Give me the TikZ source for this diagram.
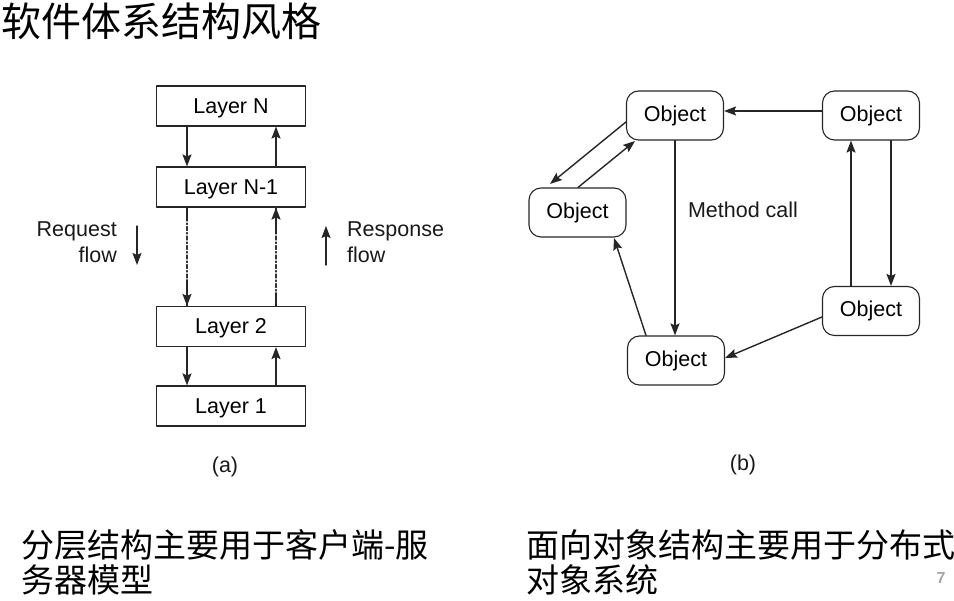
\documentclass[tikz,border=0pt]{standalone}
\usepackage{fontspec}
\setmainfont{Liberation Sans}
\newfontfamily\cjk{Noto Sans CJK SC}
\usetikzlibrary{arrows.meta,calc}

\begin{document}
\begin{tikzpicture}[x=1pt,y=-1pt,line cap=round,line join=round,
    >={Stealth[length=12pt,width=9pt,inset=2pt]},
    layer/.style={draw=black!85,line width=1.1pt,minimum width=149pt,minimum height=40pt,inner sep=0pt,text height=15pt,text depth=0pt,font=\fontsize{21.5}{24}\selectfont},
    obj/.style={draw=black!85,line width=1.1pt,rounded corners=12pt,minimum width=97pt,minimum height=49pt,inner sep=0pt,font=\fontsize{21.5}{24}\selectfont},
    lbl/.style={inner sep=0pt,text=black!90,font=\fontsize{21.5}{26}\selectfont},
    cjktext/.style={inner sep=0pt,anchor=west,align=left,font=\cjk\fontsize{33}{35}\selectfont},
    flow/.style={draw=black!85,line width=1.4pt,->},
    dotline/.style={draw=black!80,line width=1.2pt,dash pattern=on 4pt off 2pt on 1.5pt off 2pt}]
    \useasboundingbox (0,0) rectangle (954,601);
    \node[inner sep=0pt,anchor=west,font=\cjk\fontsize{40}{42}\selectfont] (title) at (1,21) {软件体系结构风格};
    % (a) layers
    \node[layer] (ln) at (231,106) {Layer N};
    \node[layer] (ln1) at (231,187) {Layer N-1};
    \node[layer] (l2) at (231,326.5) {Layer 2};
    \node[layer] (l1) at (231,406) {Layer 1};
    \coordinate (dn) at (187,0);
    \coordinate (up) at (276,0);
    \draw[flow] (ln.south -| dn) -- (ln1.north -| dn);
    \draw[flow] (ln1.north -| up) -- (ln.south -| up);
    \draw[flow] (l2.south -| dn) -- (l1.north -| dn);
    \draw[flow] (l1.north -| up) -- (l2.south -| up);
    \draw[dotline] (ln1.south -| dn) -- (l2.north -| dn);
    \draw[dotline] (ln1.south -| up) -- (l2.north -| up);
    \draw[draw=black!85,line width=1.4pt] (ln1.south -| dn) -- ++(0,13);
    \draw[flow] ($(l2.north -| dn)+(0,-26)$) -- (l2.north -| dn);
    \draw[draw=black!85,line width=1.4pt] (l2.north -| up) -- ++(0,-13);
    \draw[flow] ($(ln1.south -| up)+(0,26)$) -- (ln1.south -| up);
    \node[lbl,align=right,anchor=east] (req) at (117,242) {Request\\flow};
    \node[lbl,align=left,anchor=west] (resp) at (347,242) {Response\\flow};
    \coordinate (reqa) at (137,226);
    \coordinate (reqb) at (137,265);
    \coordinate (respa) at (326,265);
    \coordinate (respb) at (326,226);
    \draw[flow] (reqa) -- (reqb);
    \draw[flow] (respa) -- (respb);
    \node[lbl] (capa) at (225,467) {(a)};
    % (b) objects
    \node[obj] (otop) at (675,115.5) {Object};
    \node[obj] (oright) at (871,115.5) {Object};
    \node[obj] (oleft) at (577.5,212.5) {Object};
    \node[obj] (obot) at (676,360.5) {Object};
    \node[obj] (orb) at (871,311) {Object};
    \draw[flow] (oright.west |- 0,111) -- (otop.east |- 0,111);
    \draw[flow] (otop.west |- 0,122) -- (550,184);
    \draw[flow] (oleft.north -| 578,0) -- (635,141);
    \draw[flow] (otop.south -| 675,0) -- (obot.north -| 675,0);
    \draw[flow] (obot.north -| 646,0) -- (614,238);
    \draw[flow] (orb.north -| 851,0) -- (oright.south -| 851,0);
    \draw[flow] (oright.south -| 891,0) -- (orb.north -| 891,0);
    \draw[flow] (orb.west |- 0,317) -- (obot.east |- 0,358);
    \node[lbl] (mcall) at (743,210) {Method call};
    \node[lbl] (capb) at (743,465) {(b)};
    % captions
    \node[cjktext] (capla) at (21,562) {分层结构主要用于客户端-服\\务器模型};
    \node[cjktext] (caplb) at (526,562) {面向对象结构主要用于分布式\\对象系统};
    \node[inner sep=0pt,text=black!35,font=\bfseries\fontsize{16}{18}\selectfont] (pg) at (941,578) {7};
\end{tikzpicture}
\end{document}
